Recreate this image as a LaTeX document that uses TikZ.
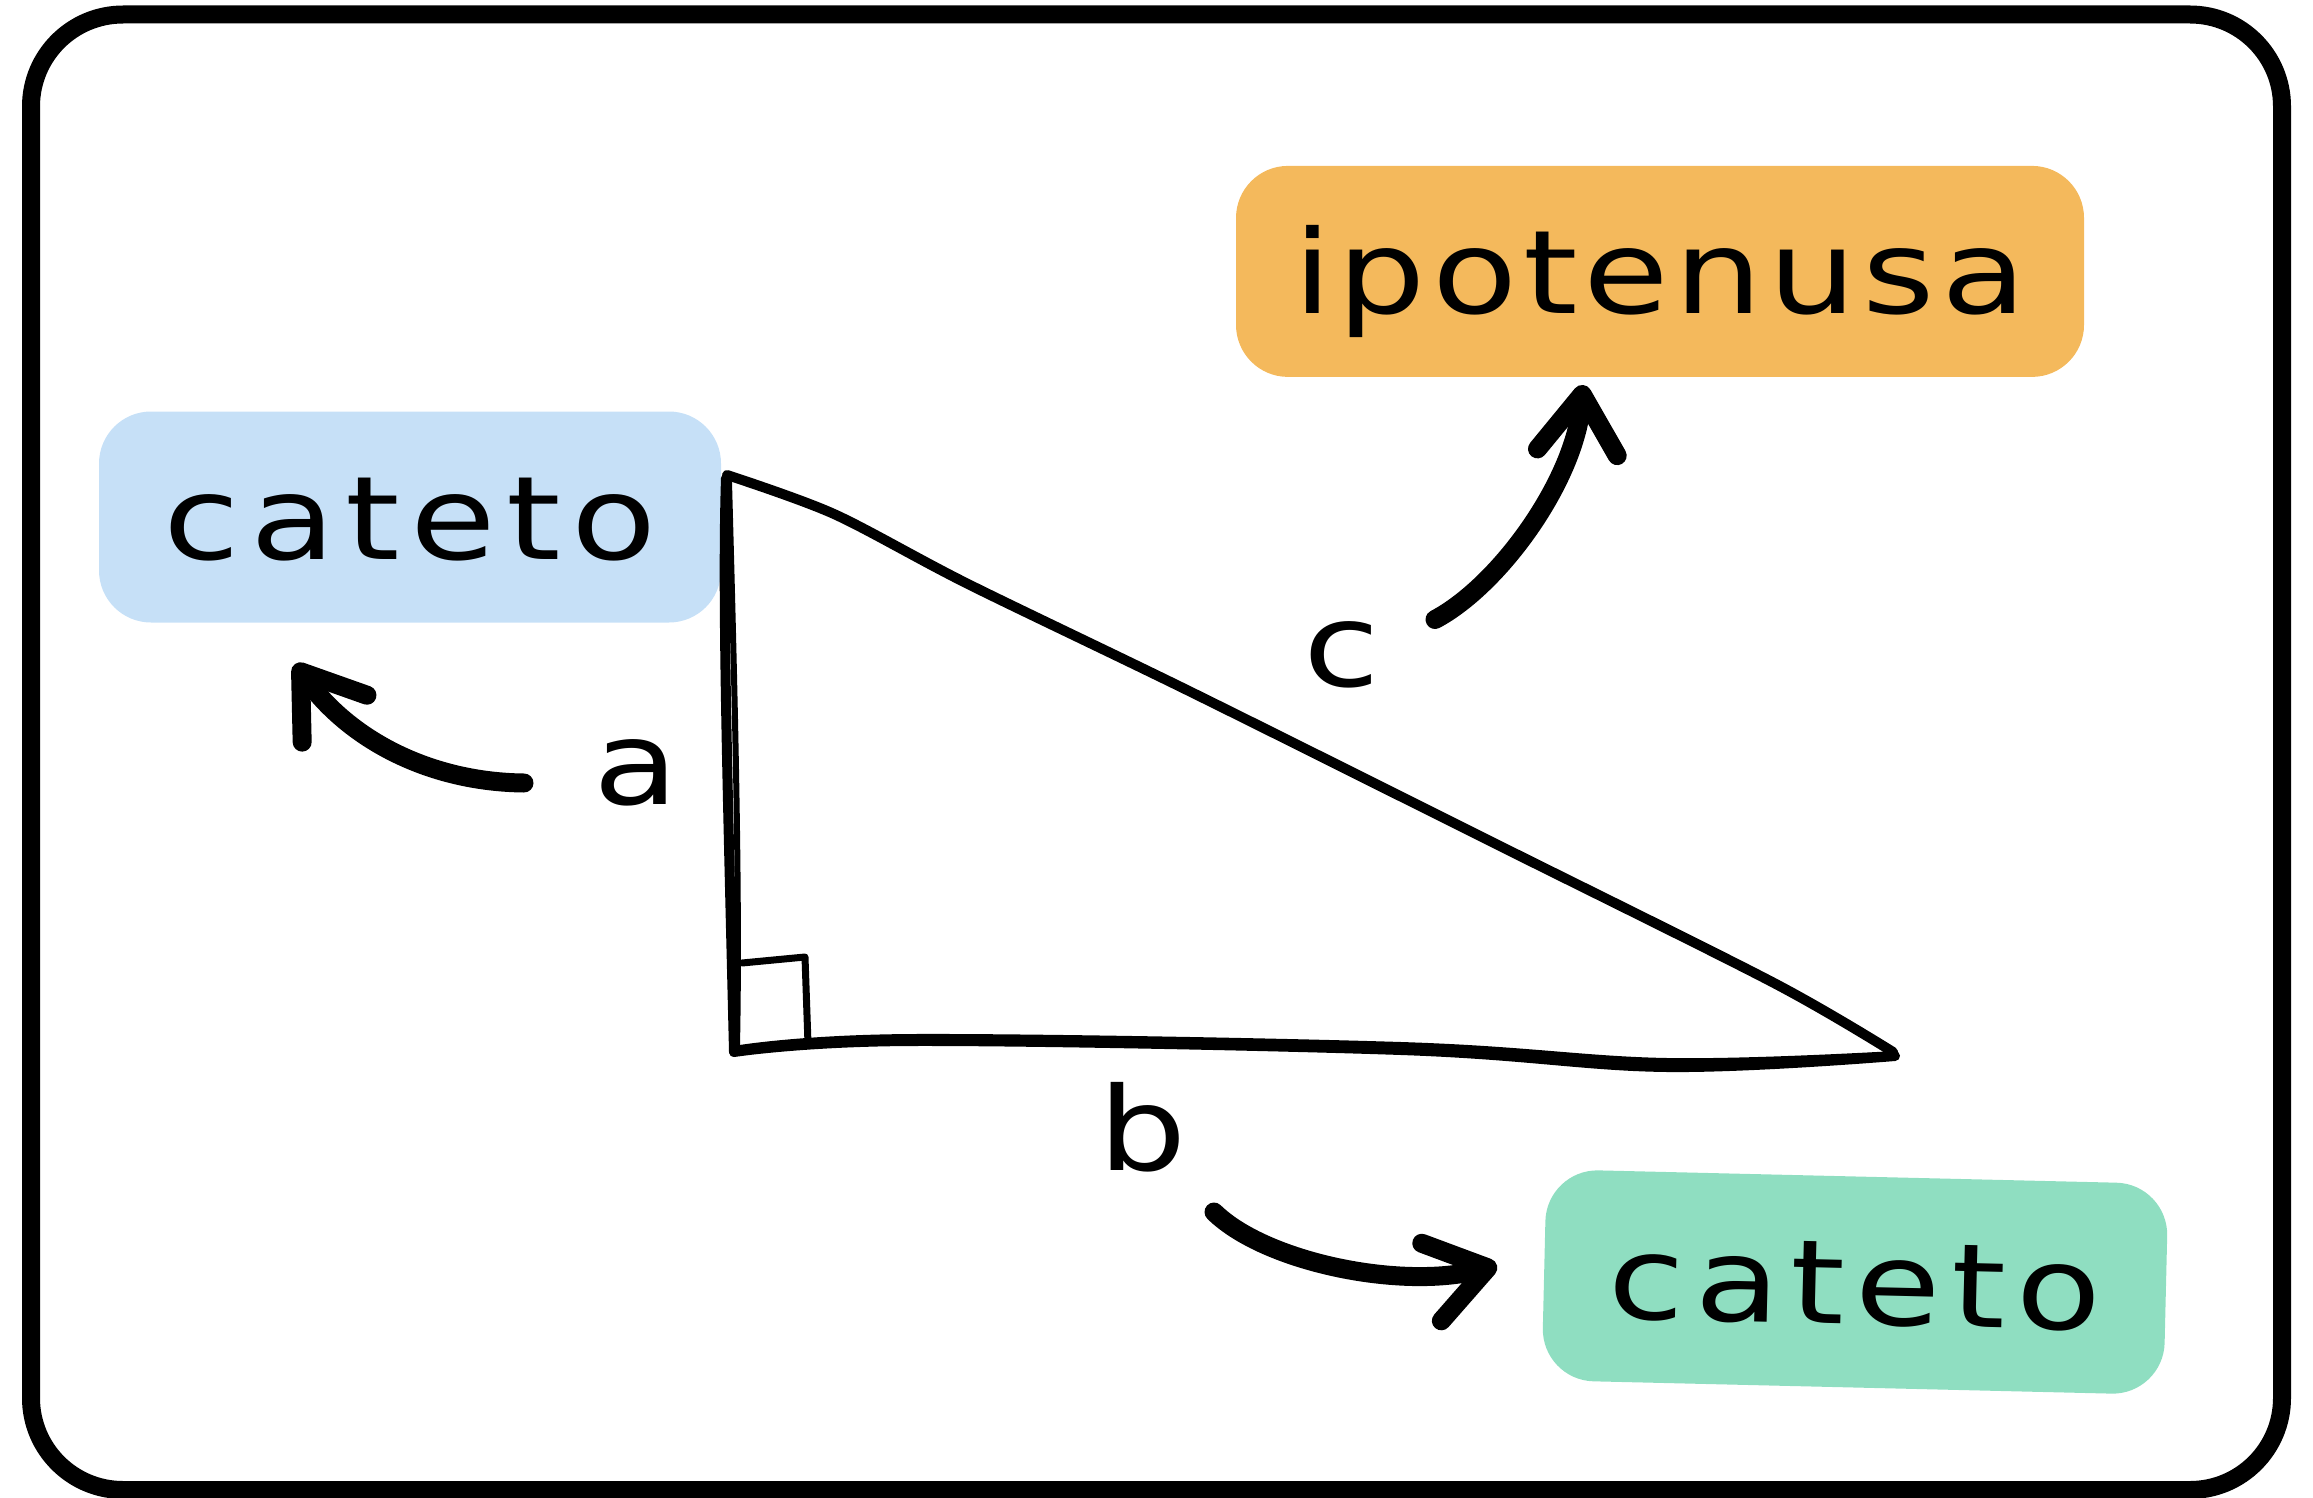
\documentclass[tikz,border=0pt]{standalone}
\usepackage{fontspec}
\usetikzlibrary{arrows.meta}
\newfontfamily\hwfont[FakeStretch=1.2,LetterSpace=9]{DejaVu Sans}
\newfontfamily\hwfontB[FakeStretch=1.2,LetterSpace=5]{DejaVu Sans}
\definecolor{boxblue}{HTML}{C6E0F7}
\definecolor{boxorange}{HTML}{F4B95C}
\definecolor{boxgreen}{HTML}{8FDEC1}
\begin{document}
\begin{tikzpicture}[x=1pt,y=-1pt,
  box/.style={rounded corners=52pt, inner sep=0pt, minimum width=622pt, minimum height=211pt,
    text height=85pt, text depth=0pt, font=\hwfont\fontsize{116}{130}\selectfont},
  lbl/.style={anchor=base, inner sep=0pt, font=\hwfont\fontsize{116}{130}\selectfont},
  tri/.style={line width=10pt, line cap=round, line join=round},
  arr/.style={line width=19pt, line cap=round, -{Straight Barb[length=58pt,width=80pt,line cap=round,line join=round]}}
]
\useasboundingbox (0,0) rectangle (2313,1498);
\draw[line width=18pt, rounded corners=92pt] (31,14.5) rectangle (2282,1490);

% boxes
\node[box, fill=boxblue] (cat1) at (410,517) {cateto};
\node[box, fill=boxorange, minimum width=848pt, font=\hwfontB\fontsize{116}{130}\selectfont] (hyp) at (1660,271.4) {ipotenusa};
\node[box, fill=boxgreen, rotate=-1.36] (cat2) at (1855,1282) {cateto};

% triangle
\draw[tri] (726,478) .. controls (722,600) and (728,800) .. (734,1052);
\draw[tri, line width=6pt] (729,482) .. controls (735,700) and (740,900) .. (737,1045);
\draw[tri] plot[smooth, tension=0.6] coordinates {(734,1052) (914,1041) (1401,1050) (1667,1067) (1895,1056)};
\draw[tri, line width=6pt] plot[smooth, tension=0.6] coordinates {(740,1048) (914,1037) (1401,1045) (1667,1061) (1895,1054)};
\draw[tri] plot[smooth, tension=0.5] coordinates {(727,475) (834,514) (968,584) (1191,692) (1498,845) (1774,983) (1893,1052)};
\draw[tri, line width=7pt] (742,963) -- (805,957) -- (808,1044);

% labels
\node[lbl] (la) at (636,804) {a};
\node[lbl] (lb) at (1143,1170) {b};
\node[lbl] (lc) at (1342,686) {c};

% arrows
\coordinate (aTail) at (524,783);
\coordinate (aTip) at (295,664);
\coordinate (cTail) at (1435,619.5);
\coordinate (cTip) at (1583,385);
\coordinate (bTail) at (1214,1212);
\coordinate (bTip) at (1497,1265.5);
\draw[arr] (aTail) .. controls (430,782) and (350,740) .. (aTip);
\draw[arr] (cTail) .. controls (1500,585) and (1575,480) .. (cTip);
\draw[arr] (bTail) .. controls (1265,1262) and (1400,1290) .. (bTip);
\end{tikzpicture}
\end{document}
